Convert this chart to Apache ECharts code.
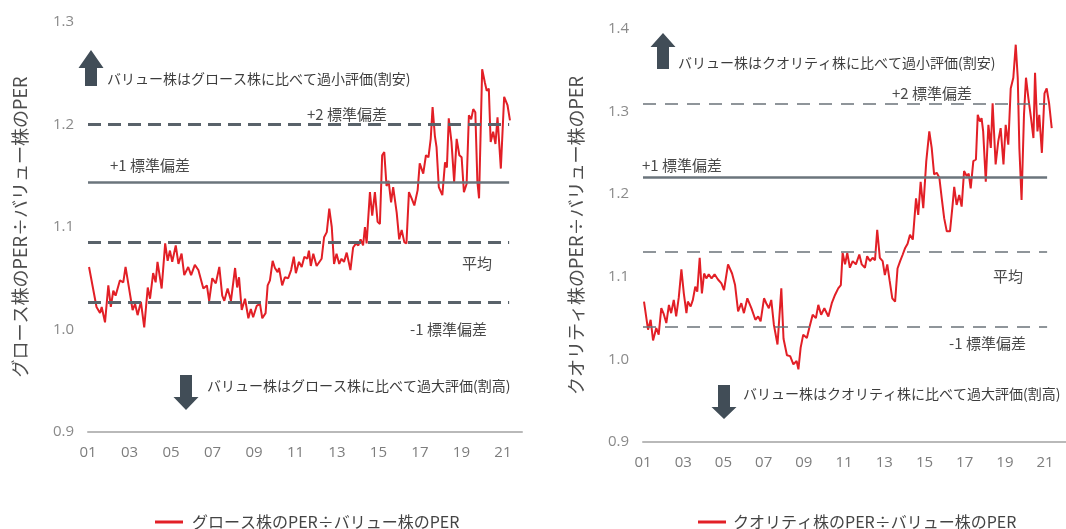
<!DOCTYPE html>
<html>
<head>
<meta charset="utf-8">
<script src="https://cdn.jsdelivr.net/npm/echarts@6/dist/echarts.min.js"></script>
<style>
  html, body { margin: 0; padding: 0; background: #fff; }
  #chart { width: 1066px; height: 529px; }
</style>
</head>
<body>
<div id="chart"></div>
<script>
// years counted from Jan 2001 (0 = 2001)
const growthT = [0.05,0.41,0.58,0.66,0.82,0.98,1.10,1.22,1.33,1.54,1.70,1.81,1.94,2.15,2.27,2.39,2.55,2.71,2.88,2.99,3.14,3.26,3.35,3.55,3.72,3.84,3.95,4.06,4.23,4.36,4.51,4.64,4.83,4.97,5.15,5.32,5.56,5.73,5.84,5.99,6.16,6.33,6.47,6.57,6.73,6.89,7.09,7.19,7.28,7.41,7.57,7.73,7.85,7.96,8.13,8.29,8.40,8.56,8.66,8.77,8.90,9.01,9.14,9.21,9.36,9.49,9.65,9.79,9.92,10.02,10.17,10.30,10.43,10.57,10.65,10.74,10.86,11.02,11.26,11.38,11.51,11.63,11.75,11.86,11.98,12.11,12.22,12.34,12.47,12.65,12.78,12.92,13.03,13.14,13.26,13.35,13.43,13.59,13.70,13.83,13.96,14.07,14.18,14.28,14.39,14.49,14.61,14.71,14.88,15.00,15.12,15.25,15.35,15.47,15.60,15.73,15.89,15.99,16.16,16.29,16.41,16.52,16.61,16.72,16.80,16.91,17.08,17.21,17.30,17.39,17.52,17.65,17.77,17.90,18.01,18.12,18.25,18.36,18.47,18.57,18.67,18.77,18.85,19.00,19.13,19.22,19.32,19.41,19.53,19.64,19.74,19.90,20.06,20.22,20.34];
const growthV = [1.061,1.022,1.016,1.022,1.007,1.043,1.022,1.038,1.033,1.048,1.046,1.061,1.045,1.019,1.025,1.014,1.027,1.002,1.041,1.030,1.055,1.046,1.066,1.040,1.084,1.067,1.077,1.066,1.082,1.064,1.074,1.053,1.061,1.053,1.063,1.058,1.040,1.043,1.028,1.050,1.045,1.061,1.033,1.028,1.040,1.028,1.060,1.041,1.051,1.019,1.030,1.011,1.020,1.012,1.023,1.025,1.011,1.016,1.043,1.048,1.067,1.060,1.056,1.060,1.043,1.051,1.050,1.058,1.071,1.055,1.066,1.061,1.071,1.069,1.077,1.062,1.074,1.062,1.069,1.090,1.095,1.118,1.100,1.064,1.074,1.064,1.069,1.066,1.075,1.058,1.080,1.084,1.082,1.088,1.082,1.100,1.084,1.134,1.111,1.134,1.105,1.103,1.170,1.173,1.140,1.145,1.124,1.139,1.114,1.088,1.097,1.085,1.084,1.134,1.128,1.121,1.136,1.162,1.152,1.170,1.168,1.186,1.217,1.189,1.178,1.139,1.131,1.163,1.158,1.206,1.183,1.144,1.186,1.170,1.168,1.134,1.142,1.209,1.205,1.215,1.212,1.144,1.128,1.254,1.241,1.233,1.235,1.183,1.193,1.181,1.207,1.157,1.227,1.219,1.204];

const qualityT = [0.05,0.25,0.38,0.50,0.66,0.78,0.91,1.03,1.16,1.29,1.40,1.53,1.65,1.78,1.91,2.03,2.16,2.23,2.37,2.48,2.60,2.70,2.82,2.93,3.04,3.15,3.27,3.41,3.56,3.72,3.90,4.03,4.23,4.43,4.58,4.73,4.89,5.02,5.19,5.39,5.59,5.73,5.85,6.02,6.13,6.26,6.38,6.51,6.69,6.88,6.99,7.16,7.32,7.48,7.64,7.73,7.84,7.97,8.15,8.27,8.44,8.60,8.72,8.86,9.02,9.22,9.39,9.55,9.71,9.84,9.93,10.05,10.16,10.29,10.43,10.59,10.76,10.88,11.04,11.15,11.29,11.42,11.54,11.65,11.78,11.92,12.03,12.15,12.27,12.40,12.54,12.66,12.79,12.92,13.04,13.16,13.28,13.42,13.58,13.69,13.81,13.94,14.09,14.24,14.36,14.48,14.61,14.74,14.86,14.98,15.11,15.27,15.40,15.48,15.60,15.73,15.85,15.97,16.10,16.20,16.30,16.43,16.56,16.65,16.76,16.84,16.92,17.05,17.18,17.30,17.39,17.54,17.67,17.79,17.93,18.04,18.17,18.29,18.42,18.54,18.64,18.72,18.83,18.95,19.05,19.17,19.30,19.42,19.50,19.62,19.71,19.84,19.97,20.08,20.20,20.33];
const qualityV = [1.070,1.036,1.048,1.023,1.038,1.030,1.062,1.055,1.044,1.066,1.056,1.072,1.052,1.075,1.109,1.080,1.056,1.070,1.064,1.072,1.088,1.082,1.123,1.080,1.104,1.098,1.103,1.098,1.103,1.097,1.092,1.084,1.115,1.104,1.090,1.058,1.068,1.056,1.074,1.062,1.048,1.052,1.046,1.074,1.068,1.062,1.072,1.042,1.018,1.086,1.025,1.005,1.004,0.994,0.998,0.988,1.014,1.030,1.026,1.038,1.054,1.050,1.066,1.054,1.062,1.052,1.068,1.078,1.086,1.090,1.129,1.115,1.129,1.111,1.119,1.115,1.127,1.115,1.111,1.125,1.119,1.123,1.120,1.157,1.123,1.119,1.102,1.115,1.095,1.074,1.070,1.110,1.119,1.127,1.135,1.140,1.151,1.145,1.195,1.175,1.215,1.183,1.240,1.276,1.256,1.224,1.226,1.220,1.195,1.171,1.155,1.155,1.187,1.209,1.187,1.199,1.185,1.228,1.222,1.225,1.207,1.240,1.242,1.296,1.288,1.292,1.276,1.215,1.284,1.256,1.310,1.236,1.264,1.280,1.236,1.284,1.260,1.328,1.341,1.381,1.341,1.256,1.193,1.296,1.341,1.316,1.292,1.268,1.347,1.276,1.296,1.250,1.322,1.328,1.310,1.280];

// +2σ, +1σ, mean, -1σ
const growthRefs = [1.200, 1.144, 1.085, 1.027];
const qualityRefs = [1.310, 1.220, 1.130, 1.040];
const refNames = ['+2 標準偏差', '+1 標準偏差', '平均', '-1 標準偏差'];
const growthName = 'グロース株のPER÷バリュー株のPER';
const qualityName = 'クオリティ株のPER÷バリュー株のPER';

const zip = (ts, vs) => ts.map((t, i) => [t, vs[i]]);

function refLines(refs, end, thin) {
  const dash = thin ? { color: '#6b7379', width: 1.6, type: [13, 9] } : { color: '#59626a', width: 3, type: [13, 7] };
  const solid = { color: '#6b757c', width: 2.5, type: 'solid' };
  return refs.map((r, i) => [
    { coord: [0, r], lineStyle: i === 1 ? solid : dash },
    { coord: [end, r] }
  ]);
}

function xAxisOf(idx, max) {
  return {
    gridIndex: idx, type: 'value', min: 0, max: max, interval: 2,
    axisLine: { lineStyle: { color: '#b9b9b9', width: 2 } },
    axisTick: { show: false }, splitLine: { show: false },
    axisLabel: {
      color: '#7d7d7d', fontSize: 15, margin: 13, showMaxLabel: false,
      fontFamily: 'Open Sans',
      formatter: v => String(v + 1).padStart(2, '0')
    }
  };
}

function yAxisOf(idx, min, max, name, gap) {
  return {
    gridIndex: idx, type: 'value', min: min, max: max, interval: 0.1,
    axisLine: { show: false }, axisTick: { show: false }, splitLine: { show: false },
    axisLabel: { color: '#8a8a8a', fontSize: 15, margin: 14, fontFamily: 'Open Sans', formatter: v => v.toFixed(1) },
    name: name, nameLocation: 'middle', nameGap: gap,
    nameTextStyle: { color: '#4d4d4d', fontSize: 18, fontFamily: 'Noto Sans CJK JP' }
  };
}

function upArrow(cx, tipY, baseY, bottomY) {
  return { type: 'polygon', shape: { points: [[cx, tipY], [cx + 12.5, baseY], [cx + 6, baseY], [cx + 6, bottomY], [cx - 6, bottomY], [cx - 6, baseY], [cx - 12.5, baseY]] }, style: { fill: '#414d57' } };
}
function downArrow(cx, topY, baseY, tipY) {
  return { type: 'polygon', shape: { points: [[cx - 6, topY], [cx + 6, topY], [cx + 6, baseY], [cx + 12.5, baseY], [cx, tipY], [cx - 12.5, baseY], [cx - 6, baseY]] }, style: { fill: '#414d57' } };
}
function label(text, x, y, size, color) {
  return { type: 'text', x: x, y: y, style: { text: text, fill: color || '#4a4a4a', font: (size || 15) + 'px "Noto Sans CJK JP"', textVerticalAlign: 'middle' } };
}

const chart = echarts.init(document.getElementById('chart'));
chart.setOption({
  animation: false,
  textStyle: { fontFamily: 'Noto Sans CJK JP' },
  grid: [
    { left: 88, top: 22, width: 434, height: 410 },
    { left: 643, top: 29, width: 423, height: 413 }
  ],
  xAxis: [xAxisOf(0, 20.92), xAxisOf(1, 21.04)],
  yAxis: [yAxisOf(0, 0.9, 1.3, growthName, 59), yAxisOf(1, 0.9, 1.4, qualityName, 58)],
  legend: [
    { data: [growthName], left: 150, top: 509, itemWidth: 28, itemHeight: 3, icon: 'rect', itemGap: 10,
      textStyle: { color: '#444', fontSize: 16, padding: [0, 0, 0, 4] } },
    { data: [qualityName], left: 693, top: 509, itemWidth: 28, itemHeight: 3, icon: 'rect',
      textStyle: { color: '#444', fontSize: 16, padding: [0, 0, 0, 2] } }
  ],
  series: [
    {
      name: growthName, type: 'line', xAxisIndex: 0, yAxisIndex: 0,
      data: zip(growthT, growthV), showSymbol: false,
      lineStyle: { color: '#e21f26', width: 2 }, itemStyle: { color: '#e21f26' },
      markLine: { silent: true, symbol: ['none', 'none'], label: { show: false }, data: refLines(growthRefs, 20.3, false) },
      z: 3
    },
    {
      name: qualityName, type: 'line', xAxisIndex: 1, yAxisIndex: 1,
      data: zip(qualityT, qualityV), showSymbol: false,
      lineStyle: { color: '#e21f26', width: 2 }, itemStyle: { color: '#e21f26' },
      markLine: { silent: true, symbol: ['none', 'none'], label: { show: false }, data: refLines(qualityRefs, 20.1, true) },
      z: 3
    }
  ],
  graphic: [
    upArrow(91, 50, 68, 86),
    label('バリュー株はグロース株に比べて過小評価(割安)', 107, 79, 14, '#3c3c3c'),
    downArrow(186, 375, 397, 410),
    label('バリュー株はグロース株に比べて過大評価(割高)', 207, 386, 14, '#3c3c3c'),
    label(refNames[0], 307, 114),
    label(refNames[1], 110, 165),
    label(refNames[2], 462, 263),
    label(refNames[3], 410, 329),

    upArrow(663, 33, 47, 69),
    label('バリュー株はクオリティ株に比べて過小評価(割安)', 678, 63, 14, '#3c3c3c'),
    downArrow(724, 385, 407, 419),
    label('バリュー株はクオリティ株に比べて過大評価(割高)', 743, 394, 14, '#3c3c3c'),
    label(refNames[0], 892, 93),
    label(refNames[1], 642, 165),
    label(refNames[2], 993, 276),
    label(refNames[3], 949, 343)
  ]
});
</script>
</body>
</html>
